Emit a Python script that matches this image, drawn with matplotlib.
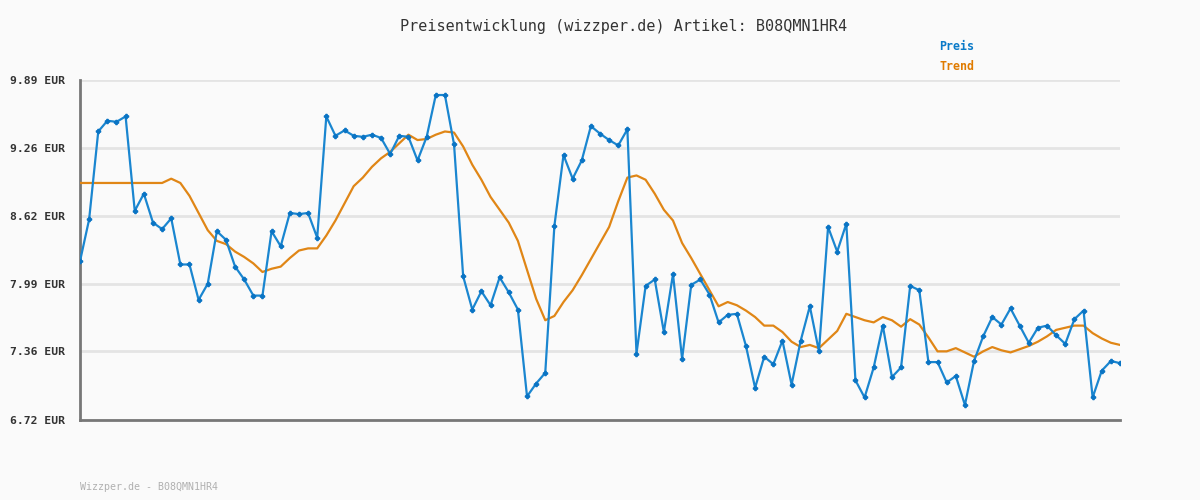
import matplotlib
matplotlib.use("Agg")
import matplotlib.pyplot as plt
import numpy as np

# Werte
preis = [8.20, 8.59, 9.41, 9.51, 9.50, 9.55, 8.67, 8.83, 8.56, 8.50,
         8.60, 8.17, 8.17, 7.84, 7.99, 8.48, 8.40, 8.15, 8.03, 7.88,
         7.88, 8.48, 8.34, 8.65, 8.64, 8.65, 8.42, 9.55, 9.37, 9.42,
         9.37, 9.36, 9.38, 9.35, 9.20, 9.37, 9.36, 9.14, 9.36, 9.75,
         9.75, 9.29, 8.06, 7.75, 7.92, 7.79, 8.05, 7.91, 7.75, 6.94,
         7.06, 7.16, 8.53, 9.19, 8.97, 9.14, 9.46, 9.39, 9.33, 9.28,
         9.43, 7.34, 7.97, 8.03, 7.54, 8.08, 7.29, 7.98, 8.03, 7.89,
         7.63, 7.70, 7.71, 7.41, 7.02, 7.31, 7.24, 7.46, 7.05, 7.46,
         7.78, 7.36, 8.52, 8.29, 8.55, 7.09, 6.93, 7.21, 7.60, 7.12,
         7.21, 7.97, 7.93, 7.26, 7.26, 7.07, 7.13, 6.86, 7.27, 7.50,
         7.68, 7.61, 7.76, 7.60, 7.44, 7.58, 7.60, 7.51, 7.43, 7.66,
         7.74, 6.93, 7.18, 7.27, 7.25]

trend = [8.93, 8.93, 8.93, 8.93, 8.93, 8.93, 8.93, 8.93, 8.93, 8.93,
         8.97, 8.93, 8.81, 8.65, 8.49, 8.39, 8.36, 8.29, 8.24, 8.18,
         8.10, 8.13, 8.15, 8.23, 8.30, 8.32, 8.32, 8.44, 8.58, 8.74,
         8.90, 8.98, 9.08, 9.16, 9.22, 9.30, 9.38, 9.33, 9.34, 9.38,
         9.41, 9.40, 9.27, 9.10, 8.96, 8.80, 8.68, 8.56, 8.39, 8.12,
         7.85, 7.65, 7.69, 7.82, 7.93, 8.07, 8.22, 8.37, 8.52, 8.76,
         8.98, 9.00, 8.96, 8.83, 8.68, 8.58, 8.37, 8.23, 8.08, 7.93,
         7.78, 7.82, 7.79, 7.74, 7.68, 7.60, 7.60, 7.54, 7.45, 7.40,
         7.42, 7.39, 7.47, 7.55, 7.71, 7.68, 7.65, 7.63, 7.68, 7.65,
         7.59, 7.66, 7.61, 7.49, 7.36, 7.36, 7.39, 7.35, 7.31, 7.36,
         7.40, 7.37, 7.35, 7.38, 7.41, 7.45, 7.50, 7.56, 7.58, 7.60,
         7.60, 7.53, 7.48, 7.44, 7.42]

yticks = [6.72, 7.36, 7.99, 8.62, 9.26, 9.89]
titel = "Preisentwicklung (wizzper.de) Artikel: B08QMN1HR4"
fuss = "Wizzper.de - B08QMN1HR4"

blau = '#1a86d0'
orange = '#e08616'
mono = 'DejaVu Sans Mono'

fig = plt.figure(figsize=(12, 5), dpi=100, facecolor='#fafafa')
ax = fig.add_axes([80/1200, 80/500, 1040/1200, 340/500])
ax.set_facecolor('#fafafa')

x = np.arange(len(preis))
ax.plot(x, trend, color=orange, lw=1.6, zorder=3)
ax.plot(x, preis, color=blau, lw=1.6, marker='P', ms=3,
        mfc='#0a74c4', mec='#0a74c4', zorder=4)

ax.set_xlim(0, len(preis) - 1)
ax.set_ylim(yticks[0], yticks[-1])
ax.set_yticks(yticks)
ax.set_yticklabels(['%.2f EUR' % v for v in yticks], fontfamily=mono,
                   fontweight='bold', fontsize=8.2, color='#333333')
ax.set_xticks([])
ax.tick_params(axis='y', length=0, pad=11)
ax.grid(axis='y', color='#e4e4e4', lw=2)
ax.set_axisbelow(True)

for s in ['top', 'right']:
    ax.spines[s].set_visible(False)
for s in ['left', 'bottom']:
    ax.spines[s].set_color('#777777')
    ax.spines[s].set_linewidth(2)

fig.text(624/1200, 1 - 27/500, titel, ha='center', va='center',
         fontfamily=mono, fontsize=10.9, color='#333333')
fig.text(939/1200, 1 - 47/500, 'Preis', ha='left', va='center',
         fontfamily=mono, fontweight='bold', fontsize=8.4, color='#0a7ac8')
fig.text(939/1200, 1 - 67/500, 'Trend', ha='left', va='center',
         fontfamily=mono, fontweight='bold', fontsize=8.4, color='#e07b00')
fig.text(80/1200, 1 - 487/500, fuss, ha='left', va='center',
         fontfamily=mono, fontsize=7.2, color='#b0b0b0')

fig.savefig('out.png', dpi=100, facecolor=fig.get_facecolor())
